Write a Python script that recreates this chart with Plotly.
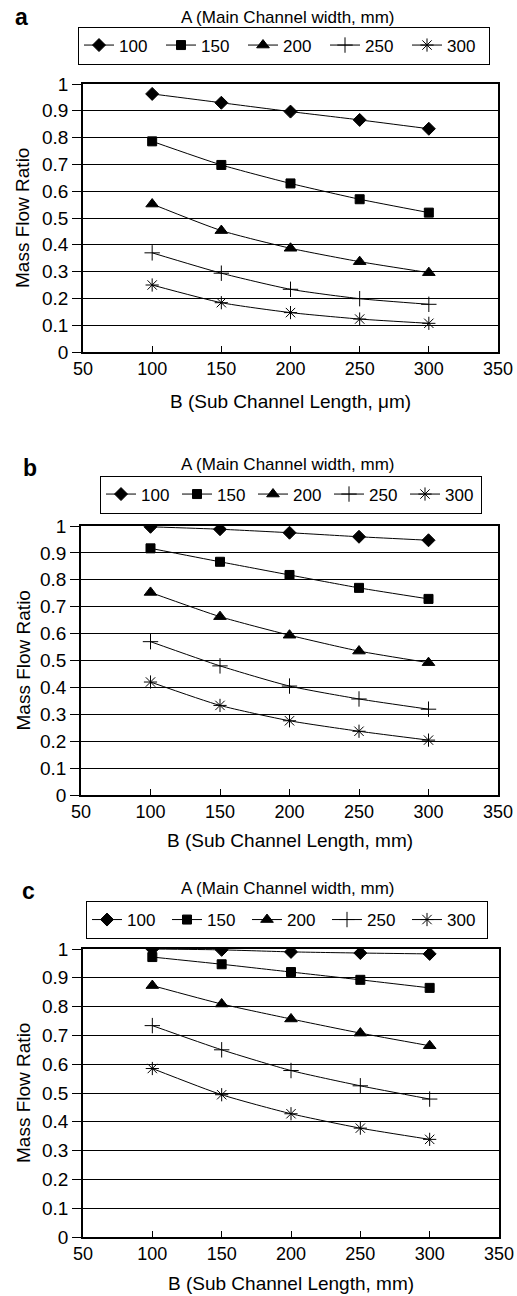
import plotly.graph_objects as go

# Sub channel length B (x values shared by every panel)
sub_length = [100, 150, 200, 250, 300]
widths = ["100", "150", "200", "250", "300"]

# Mass flow ratio, one list per main channel width
panel_a = {
    "100": [0.963, 0.930, 0.897, 0.866, 0.833],
    "150": [0.786, 0.698, 0.629, 0.570, 0.520],
    "200": [0.552, 0.453, 0.387, 0.337, 0.296],
    "250": [0.370, 0.294, 0.234, 0.199, 0.178],
    "300": [0.250, 0.184, 0.147, 0.123, 0.107],
}
panel_b = {
    "100": [0.997, 0.988, 0.975, 0.960, 0.947],
    "150": [0.917, 0.867, 0.818, 0.770, 0.729],
    "200": [0.753, 0.663, 0.594, 0.535, 0.492],
    "250": [0.570, 0.480, 0.405, 0.357, 0.319],
    "300": [0.420, 0.333, 0.276, 0.237, 0.204],
}
panel_c = {
    "100": [1.000, 0.997, 0.990, 0.986, 0.983],
    "150": [0.972, 0.947, 0.920, 0.893, 0.865],
    "200": [0.873, 0.809, 0.757, 0.708, 0.664],
    "250": [0.734, 0.650, 0.578, 0.525, 0.479],
    "300": [0.585, 0.494, 0.428, 0.378, 0.339],
}

x_ticks = [50, 100, 150, 200, 250, 300, 350]
y_ticks = [0, 0.1, 0.2, 0.3, 0.4, 0.5, 0.6, 0.7, 0.8, 0.9, 1]
y_tick_text = ["0", "0.1", "0.2", "0.3", "0.4", "0.5", "0.6", "0.7", "0.8", "0.9", "1"]

SYMBOLS = {
    "100": dict(symbol="diamond", size=10),
    "150": dict(symbol="square", size=9),
    "200": dict(symbol="triangle-up", size=11),
    "250": dict(symbol="cross-thin-open", size=11),
    "300": dict(symbol="asterisk-open", size=11),
}

W, H = 517, 1296
FONT = "Liberation Sans, Arial, sans-serif"


def px(x):
    return x / W


def py(y):
    return 1 - y / H


# pixel geometry of each panel (plot box, legend box, title rows, panel letter)
panels = [
    dict(data=panel_a, x0=83, x1=498, top=84, bot=352, leg_x=78, leg_y=45.5, entry=37, title_y=18,
         label="a", label_xy=(21, 17), xtitle="B (Sub Channel Length, μm)", xtitle_y=402),
    dict(data=panel_b, x0=81, x1=498, top=526, bot=795, leg_x=100, leg_y=494.5, entry=31, title_y=464,
         label="b", label_xy=(30, 468), xtitle="B (Sub Channel Length, mm)", xtitle_y=840),
    dict(data=panel_c, x0=83, x1=499, top=949, bot=1237, leg_x=86, leg_y=920, entry=35, title_y=888,
         label="c", label_xy=(28, 891), xtitle="B (Sub Channel Length, mm)", xtitle_y=1283),
]

fig = go.Figure()
annotations = []
for i, p in enumerate(panels, start=1):
    sfx = "" if i == 1 else str(i)
    legend_name = "legend" if i == 1 else f"legend{i}"
    for w in widths:
        fig.add_trace(go.Scatter(
            x=sub_length, y=p["data"][w], name=w,
            mode="lines+markers",
            line=dict(color="black", width=1, shape="spline", smoothing=0.6),
            marker=dict(color="black", line=dict(color="black", width=1), **SYMBOLS[w]),
            xaxis=f"x{sfx}", yaxis=f"y{sfx}", legend=legend_name,
        ))

    fig.layout[f"xaxis{sfx}"] = dict(
        domain=[px(p["x0"]), px(p["x1"])], anchor=f"y{sfx}", automargin=False,
        range=[50, 350], tickvals=x_ticks, ticks="inside", ticklen=6, tickcolor="black",
        showline=True, linecolor="black", linewidth=1.5, mirror=True,
        showgrid=False, zeroline=False,
        tickfont=dict(size=18, color="black"),
    )
    fig.layout[f"yaxis{sfx}"] = dict(
        domain=[py(p["bot"]), py(p["top"])], anchor=f"x{sfx}", automargin=False,
        range=[0, 1], tickvals=y_ticks, ticktext=y_tick_text, ticks="outside", ticklen=9,
        tickcolor="black",
        showline=True, linecolor="black", linewidth=1.5, mirror=True,
        showgrid=True, gridcolor="black", gridwidth=1, zeroline=False,
        tickfont=dict(size=19, color="black"),
    )
    fig.layout[legend_name] = dict(
        orientation="h", x=px(p["leg_x"]), y=py(p["leg_y"]),
        xanchor="left", yanchor="middle",
        bordercolor="black", borderwidth=1, bgcolor="white",
        font=dict(size=17, color="black"), itemwidth=30,
        entrywidth=p["entry"], entrywidthmode="pixels",
        tracegroupgap=0,
    )
    annotations.append(dict(
        text="A (Main Channel width, mm)", x=px(288), y=py(p["title_y"]),
        xanchor="center", yanchor="middle",
        xref="paper", yref="paper", showarrow=False, font=dict(size=17, color="black"),
    ))
    annotations.append(dict(
        text=f"<b>{p['label']}</b>", x=px(p["label_xy"][0]), y=py(p["label_xy"][1]),
        xanchor="center", yanchor="middle",
        xref="paper", yref="paper", showarrow=False, font=dict(size=23, color="black"),
    ))
    annotations.append(dict(
        text=p["xtitle"], x=px((p["x0"] + p["x1"]) / 2), y=py(p["xtitle_y"]),
        xanchor="center", yanchor="middle",
        xref="paper", yref="paper", showarrow=False, font=dict(size=19, color="black"),
    ))
    annotations.append(dict(
        text="Mass Flow Ratio", x=px(23), y=py((p["top"] + p["bot"]) / 2),
        xanchor="center", yanchor="middle", textangle=-90,
        xref="paper", yref="paper", showarrow=False, font=dict(size=19, color="black"),
    ))

fig.update_layout(
    width=W, height=H,
    margin=dict(l=0, r=0, t=0, b=0),
    paper_bgcolor="white", plot_bgcolor="white",
    font=dict(family=FONT, color="black"),
    annotations=annotations,
)

# drop the browser's default body margin so the figure sits at the page corner
fig.write_html("out.html", config={"displayModeBar": False},
               post_script="document.body.style.margin = '0';")
